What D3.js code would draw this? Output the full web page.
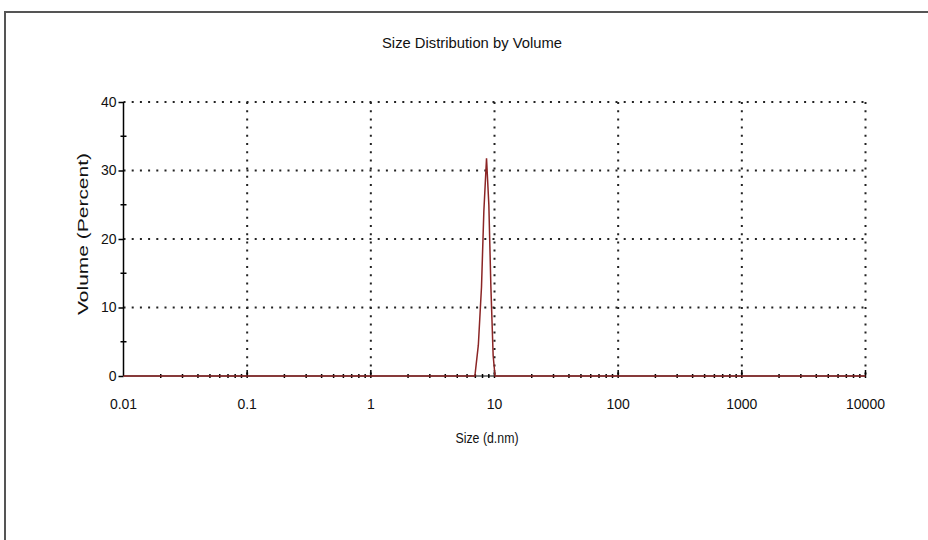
<!DOCTYPE html>
<meta charset="utf-8">
<style>
body { margin: 0; background: #fff; }
text { font-family: "Liberation Sans", Arial, sans-serif; fill: #111; }
</style>
<body>
<script src="https://cdnjs.cloudflare.com/ajax/libs/d3/7.8.5/d3.min.js"></script>
<script>
// size classes (d.nm) and volume percent
var sizes  = [0.01, 6.94, 7.4, 7.85, 8.2, 8.62, 9.0, 9.35, 9.75, 10.1, 10000];
var volume = [0,    0,    4.5, 13,   24,  31.8, 25,  13,   3,    0,    0];

var xTicks = [0.01, 0.1, 1, 10, 100, 1000, 10000];
var xTickLabels = ["0.01", "0.1", "1", "10", "100", "1000", "10000"];
var yTicks = [0, 10, 20, 30, 40];
var yMinor = [5, 15, 25, 35];

var w = 928, h = 540;
var pLeft = 123.5, pRight = 865.5, pTop = 102, pBottom = 376;

var svg = d3.select("body").append("svg")
	.attr("width", w)
	.attr("height", h);

// outer frame (runs off the right and bottom)
svg.append("path")
	.attr("d", "M5," + (h + 5) + "V12H" + (w + 5))
	.attr("fill", "none")
	.attr("stroke", "#555")
	.attr("stroke-width", 2);

var x = d3.scaleLog().domain([0.01, 10000]).range([pLeft, pRight]);
var y = d3.scaleLinear().domain([0, 40]).range([pBottom, pTop]);

// dotted grid
var grid = svg.append("g")
	.attr("stroke", "#222")
	.attr("stroke-width", 2)
	.attr("stroke-dasharray", "2,6.2");
grid.selectAll(".gx")
	.data(xTicks.slice(1))
	.enter().append("line")
	.attr("x1", d => x(d)).attr("x2", d => x(d))
	.attr("y1", y(40)).attr("y2", y(0));
grid.selectAll(".gy")
	.data(yTicks.slice(1))
	.enter().append("line")
	.attr("x1", x(0.01)).attr("x2", x(10000))
	.attr("y1", d => y(d)).attr("y2", d => y(d));

// y axis
var yAxis = svg.append("g")
	.attr("transform", "translate(" + pLeft + ",0)")
	.call(d3.axisLeft(y).tickValues(yTicks).tickSize(5).tickPadding(2));
yAxis.select(".domain").attr("stroke", "#000").attr("stroke-width", 1.5)
	.attr("d", "M0," + y(40) + "V" + y(0));
yAxis.selectAll("text")
	.style("font-family", "'Liberation Sans', Arial, sans-serif")
	.style("font-size", "14px")
	.attr("fill", "#111");
yAxis.selectAll(".tick line").attr("stroke", "#000").attr("stroke-width", 1.5);
svg.selectAll(".ym")
	.data(yMinor)
	.enter().append("line")
	.attr("x1", pLeft - 3).attr("x2", pLeft + 3)
	.attr("y1", d => y(d)).attr("y2", d => y(d))
	.attr("stroke", "#000").attr("stroke-width", 1.5);

// x axis: minor ticks 2..9 in each decade, major ticks upward
var minor = [];
for (var e = -2; e < 4; e++) {
	for (var m = 2; m <= 9; m++) minor.push(m * Math.pow(10, e));
}
svg.append("line")
	.attr("x1", pLeft).attr("x2", pRight)
	.attr("y1", pBottom).attr("y2", pBottom)
	.attr("stroke", "#000").attr("stroke-width", 1.2);
svg.selectAll(".xm")
	.data(minor)
	.enter().append("line")
	.attr("x1", d => x(d)).attr("x2", d => x(d))
	.attr("y1", pBottom - 2).attr("y2", pBottom + 2)
	.attr("stroke", "#000").attr("stroke-width", 1.5);
svg.selectAll(".xM")
	.data(xTicks.slice(1))
	.enter().append("line")
	.attr("x1", d => x(d)).attr("x2", d => x(d))
	.attr("y1", pBottom - 6).attr("y2", pBottom + 2)
	.attr("stroke", "#000").attr("stroke-width", 1.5);
svg.selectAll(".xl")
	.data(xTicks)
	.enter().append("text")
	.attr("x", d => x(d))
	.attr("y", 409)
	.attr("text-anchor", "middle")
	.style("font-size", "14px")
	.text((d, i) => xTickLabels[i]);

// data line
var line = d3.line()
	.x((d, i) => x(sizes[i]))
	.y(d => y(d));
svg.append("path")
	.datum(volume)
	.attr("d", line)
	.attr("fill", "none")
	.attr("stroke", "#8b2525")
	.attr("stroke-width", 1.5);

// titles
svg.append("text")
	.attr("x", 472).attr("y", 48)
	.attr("text-anchor", "middle")
	.attr("textLength", 180).attr("lengthAdjust", "spacingAndGlyphs")
	.style("font-size", "15px")
	.text("Size Distribution by Volume");
svg.append("text")
	.attr("x", 487).attr("y", 443)
	.attr("text-anchor", "middle")
	.attr("textLength", 63).attr("lengthAdjust", "spacingAndGlyphs")
	.style("font-size", "14px")
	.text("Size (d.nm)");
svg.append("text")
	.attr("transform", "translate(88,234) rotate(-90)")
	.attr("text-anchor", "middle")
	.attr("textLength", 162).attr("lengthAdjust", "spacingAndGlyphs")
	.style("font-size", "15px")
	.text("Volume (Percent)");
</script>
</body>
